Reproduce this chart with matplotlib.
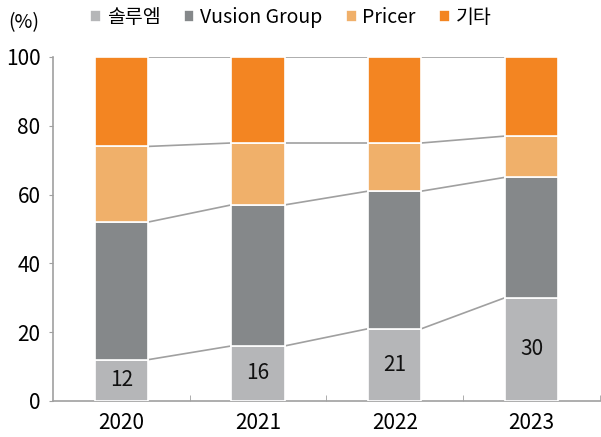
import numpy as np
import matplotlib.pyplot as plt
from matplotlib.ticker import FixedLocator

plt.rcParams['font.family'] = ['Noto Sans CJK KR', 'DejaVu Sans']

# data
years = ["2020", "2021", "2022", "2023"]
solum = [12, 16, 21, 30]
vusion = [40, 41, 40, 35]
pricer = [22, 18, 14, 12]
others = [26, 25, 25, 23]

series = [("솔루엠", solum, "#b5b6b8"),
          ("Vusion Group", vusion, "#85888a"),
          ("Pricer", pricer, "#f0b06a"),
          ("기타", others, "#f38522")]

fig = plt.figure(figsize=(6.01, 4.37), dpi=100)
ax = fig.add_axes([0.088, 0.0824, 0.91, 0.7872])

x = np.arange(len(years))
w = 0.39
bottom = np.zeros(len(years))
tops = []
for name, vals, col in series:
    ax.bar(x, vals, w, bottom=bottom, color=col, edgecolor="white", linewidth=1.2,
           label=name, zorder=3)
    bottom = bottom + np.array(vals)
    tops.append(bottom.copy())

# series lines between bars
for lvl in tops:
    for i in range(len(years) - 1):
        ax.plot([x[i] + w / 2, x[i + 1] - w / 2], [lvl[i], lvl[i + 1]],
                color="#a0a0a0", lw=1.2, zorder=2)

# labels on the bottom segment
for i, v in enumerate(solum):
    ax.text(x[i], v / 2, str(v), ha="center", va="center", fontsize=15, color="#111111")

ax.set_xlim(-0.5, 3.5)
ax.set_ylim(0, 100)
ax.set_yticks([0, 20, 40, 60, 80, 100])
ax.set_xticks(x)
ax.set_xticklabels(years)
ax.xaxis.set_minor_locator(FixedLocator([0.5, 1.5, 2.5, 3.5]))
ax.tick_params(axis="x", which="major", length=0, labelsize=15, pad=8)
ax.tick_params(axis="x", which="minor", length=4, color="#a0a0a0", direction="in")
ax.tick_params(axis="y", length=3, color="#a0a0a0", labelsize=15, direction="out", pad=6)
for s in ["top", "right"]:
    ax.spines[s].set_visible(False)
for s in ["left", "bottom"]:
    ax.spines[s].set_color("#a0a0a0")
    ax.spines[s].set_linewidth(1.2)

fig.text(0.013, 0.948, "(%)", fontsize=14, va="center")
ax.legend(loc="center", bbox_to_anchor=(0.435, 1.115), ncol=4, frameon=False,
          fontsize=14, handlelength=0.55, handleheight=0.55, handletextpad=0.3,
          columnspacing=1.2)

fig.savefig("out.png", dpi=100)
